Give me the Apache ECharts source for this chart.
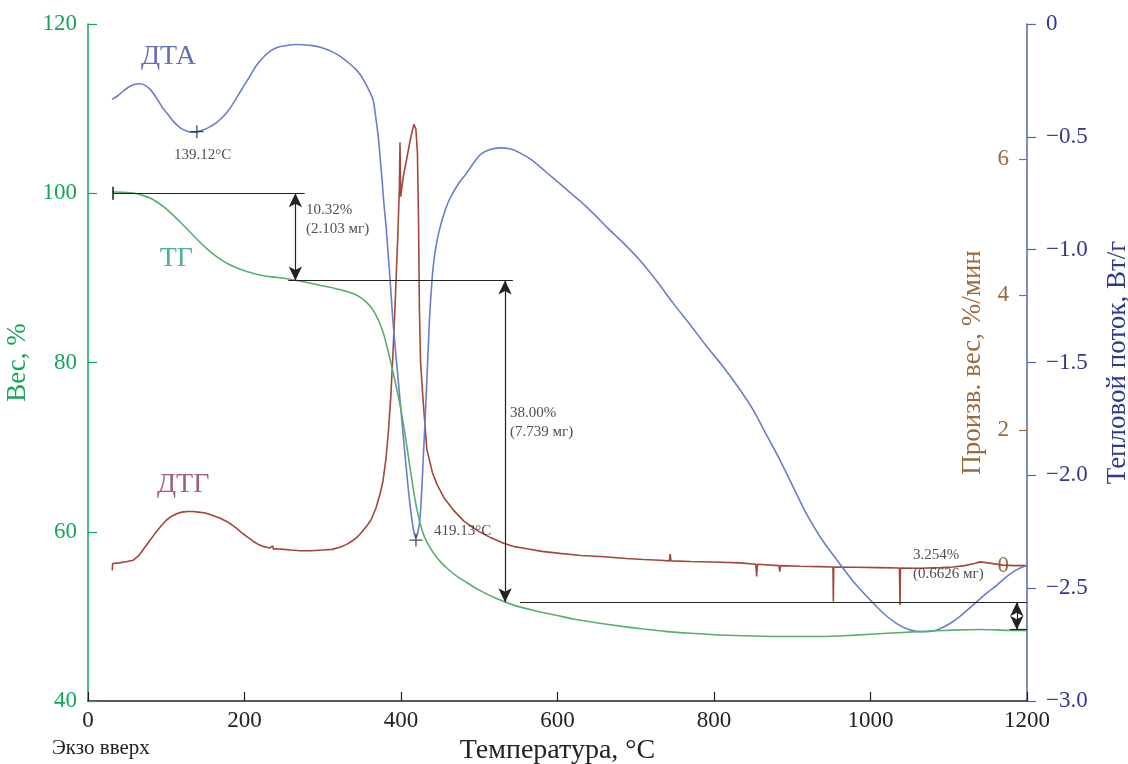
<!DOCTYPE html>
<html><head><meta charset="utf-8">
<script src="https://cdn.jsdelivr.net/npm/echarts@6/dist/echarts.min.js"></script>
<style>html,body{margin:0;padding:0;background:#fff}#c{width:1128px;height:764px}</style>
</head><body><div id="c"></div>
<script>
// ---------- data ----------
const tgTemp   = [31,45,58,70,80,90,100,110,120,130,140,150,160,170,180,192,205,220,235,250,265,280,295,309,320,332,340,348,355,362,368,373,378,382,386,390,394,399,405,411,416,420,425,430,436,443,450,460,472,484,500,522,545,570,600,620,650,680,710,740,770,808,850,890,935,980,1021,1060,1106,1140,1160,1178,1200];
const tgWeight = [100.15,100.12,100.02,99.75,99.4,98.85,98.15,97.3,96.4,95.45,94.5,93.6,92.8,92.15,91.6,91.1,90.7,90.35,90.12,89.95,89.72,89.45,89.15,88.9,88.65,88.35,88.1,87.7,87.2,86.5,85.6,84.6,83.3,81.9,80.4,78.8,77.1,74.9,71.6,67.9,64.9,62.8,60.8,59.4,58.3,57.3,56.5,55.6,54.7,54.0,53.1,52.1,51.3,50.7,50.1,49.7,49.25,48.85,48.5,48.2,48.0,47.8,47.68,47.62,47.62,47.78,48.0,48.2,48.38,48.45,48.4,48.35,48.35];

const dtgTemp = [31,31.5,40,50,58,65,72,79,86,93,100,107,114,120,127,134,141,148,155,162,169,176,183,190,197,204,211,218,225,232,236,237,240,250,260,271,285,300,312,322,330,337,343,348,356,362,368,373,377,381,384,387,390,393,396,398,398.7,399.6,403,408,412,416.5,419,421,422.5,423.5,425,428.5,433,440,446,455,467,480,497,515,531,545,561,580,603,630,660,688,710,731,743,744,745,770,808,833,853.5,854.5,855.5,883,884,885,910,935,952,952.5,953,980,1010,1037,1037.7,1038.3,1063,1090,1106,1120,1133,1140,1150,1169,1185,1200];
const dtgRate = [-0.07,0.03,0.04,0.06,0.08,0.15,0.26,0.37,0.48,0.58,0.67,0.73,0.77,0.79,0.8,0.8,0.79,0.78,0.76,0.73,0.7,0.66,0.61,0.55,0.48,0.42,0.36,0.31,0.28,0.26,0.29,0.24,0.25,0.24,0.23,0.22,0.22,0.23,0.24,0.27,0.31,0.36,0.41,0.47,0.58,0.68,0.85,1.05,1.25,1.6,2.0,2.5,3.2,4.0,4.9,5.6,6.25,5.45,5.75,6.05,6.3,6.52,6.45,6.1,5.0,3.8,3.0,2.4,1.72,1.38,1.2,1.0,0.82,0.66,0.52,0.41,0.33,0.28,0.25,0.21,0.18,0.15,0.13,0.106,0.09,0.08,0.07,0.17,0.07,0.06,0.05,0.04,0.02,-0.16,0.02,0.0,-0.09,0.0,-0.01,-0.015,-0.02,-0.53,-0.02,-0.025,-0.03,-0.035,-0.58,-0.035,-0.04,-0.03,-0.02,0.0,0.03,0.055,0.04,0.007,0.0,0.0];

const dtaTemp = [30.7,38,45,52,59,66,73,80,88,95,102,110,118,126,133,139,147,155,163,170,178,185,192,200,208,215,222,230,238,246,256,266,276,287,297,307,316,325,334,342,348,354,360,364.6,368,371,373,376,378,381,384,386,390,396.5,403,409,414,417,419,421,424,426,428.5,431,433,435,437,441,445,450,457,463,473,484,501,514,526.5,539,552,566,586,607,629,646,663,684,705,727,748,770,791,812,833,850,867,884,901,918,937,957,978,999,1016,1033,1048,1063,1075,1085,1100,1114,1131,1148,1162,1174,1186,1200];
const dtaFlow = [-0.334,-0.318,-0.298,-0.279,-0.268,-0.265,-0.272,-0.292,-0.33,-0.37,-0.4,-0.435,-0.46,-0.474,-0.479,-0.478,-0.47,-0.457,-0.44,-0.42,-0.39,-0.355,-0.315,-0.27,-0.225,-0.185,-0.155,-0.128,-0.11,-0.1,-0.094,-0.091,-0.092,-0.096,-0.103,-0.115,-0.13,-0.15,-0.175,-0.2,-0.225,-0.26,-0.3,-0.34,-0.42,-0.5,-0.58,-0.7,-0.79,-0.9,-1.04,-1.13,-1.33,-1.58,-1.83,-2.05,-2.2,-2.26,-2.275,-2.26,-2.2,-2.1,-1.92,-1.74,-1.58,-1.42,-1.27,-1.08,-0.98,-0.9,-0.82,-0.77,-0.71,-0.66,-0.58,-0.556,-0.549,-0.553,-0.571,-0.6,-0.658,-0.72,-0.785,-0.84,-0.9,-0.97,-1.046,-1.14,-1.238,-1.335,-1.43,-1.52,-1.62,-1.71,-1.82,-1.93,-2.05,-2.17,-2.28,-2.375,-2.47,-2.55,-2.61,-2.656,-2.682,-2.693,-2.692,-2.685,-2.66,-2.626,-2.575,-2.523,-2.485,-2.449,-2.42,-2.398];

// axis ticks
const xTicks = [0,200,400,600,800,1000,1200];
const weightTicks = [40,60,80,100,120];
const rateTicks = [0,2,4,6];
const flowTicks = [0,-0.5,-1.0,-1.5,-2.0,-2.5,-3.0];

// annotations (data space, weight axis)
const stepLines = [[32,277,100],[256,543,89.68],[552,1200,51.68],[1178,1200,48.43]]; // [tStart,tEnd,weight]
const stepArrows = [[265,100,89.68],[533,89.68,51.68],[1187,51.68,48.43]];          // [t,wFrom,wTo]
const noteTexts = ['139.12°C','10.32%\n(2.103 мг)','38.00%\n(7.739 мг)','419.13°C','3.254%\n(0.6626 мг)'];
const noteAnchors = [[109.9,104.5],[278.6,96.84],[539.3,72.85],[442.2,60.09],[1054.3,56.07]];
const peakMarks = [[139.12,-0.477],[419.13,-2.287]]; // on heat-flow axis
const startMark = [[32,100]];
const curveNames = ['ДТА','ТГ','ДТГ'];
const curveNameAnchors = [[67.7,116.1],[91.6,92.23],[88.2,65.52]];

// ---------- style ----------
const FONT = '"Liberation Serif","Times New Roman",serif';
const GREEN = '#14a55a', TGC = '#5aae6c', DTGC = '#a3473a', DTAC = '#6a7dcf';
const BLUE_AX = '#5761b8', BLUE_TX = '#2f3994', BROWN_TX = '#9b6b40', INK = '#222';
const NAME_COLORS = ['#3e4c9f','#24998a','#8e3562'];

const zip = (a,b) => a.map((v,i)=>[v,b[i]]);
const markLines = [];
stepLines.forEach(l => markLines.push([{coord:[l[0],l[2]],symbol:'none'},{coord:[l[1],l[2]],symbol:'none'}]));
stepArrows.forEach(a => markLines.push([{coord:[a[0],a[1]],symbol:'arrow'},{coord:[a[0],a[2]],symbol:'arrow'}]));

const chart = echarts.init(document.getElementById('c'), null, {renderer:'canvas'});
chart.setOption({
  animation:false,
  backgroundColor:'#fff',
  textStyle:{fontFamily:FONT},
  grid:{left:88,right:101,top:24,bottom:63,containLabel:false,outerBoundsMode:'none'},
  xAxis:{type:'value',min:0,max:1200,interval:200,
    axisLine:{onZero:false,lineStyle:{color:INK,width:1.5}},
    axisTick:{inside:true,length:9,lineStyle:{color:INK,width:1.2},customValues:xTicks},
    axisLabel:{color:INK,fontSize:23,margin:8,fontFamily:FONT,customValues:xTicks,hideOverlap:false,formatter:v=>String(v)},
    splitLine:{show:false},
    name:'Температура, °C',nameLocation:'middle',nameGap:35,
    nameTextStyle:{fontSize:28,color:INK,fontFamily:FONT}},
  yAxis:[
    {type:'value',position:'left',min:40,max:120,interval:20,
     axisLine:{show:true,onZero:false,lineStyle:{color:GREEN,width:1.5}},
     axisTick:{show:true,inside:true,length:9,lineStyle:{color:GREEN,width:1.2},customValues:weightTicks},
     axisLabel:{color:GREEN,fontSize:23,margin:11,fontFamily:FONT,customValues:weightTicks,hideOverlap:false},
     splitLine:{show:false},
     name:'Вес, %',nameLocation:'middle',nameGap:52,nameRotate:90,
     nameTextStyle:{color:GREEN,fontSize:27,fontFamily:FONT}},
    {type:'value',position:'right',offset:0,min:-2,max:8,interval:2,
     axisLine:{show:false,onZero:false},
     axisTick:{show:true,inside:true,length:8,lineStyle:{color:BROWN_TX,width:1.2},customValues:rateTicks},
     axisLabel:{inside:true,color:BROWN_TX,fontSize:23,margin:18,fontFamily:FONT,customValues:rateTicks,hideOverlap:false},
     splitLine:{show:false},
     name:'Произв. вес, %/мин',nameLocation:'middle',nameGap:-68,nameRotate:90,
     nameTextStyle:{color:BROWN_TX,fontSize:27,fontFamily:FONT}},
    {type:'value',position:'right',offset:0,min:-3,max:0,interval:0.5,
     axisLine:{show:true,onZero:false,lineStyle:{color:BLUE_AX,width:1.5}},
     axisTick:{show:true,inside:false,length:9,lineStyle:{color:BLUE_AX,width:1.2},customValues:flowTicks},
     axisLabel:{color:BLUE_TX,fontSize:23,margin:19,fontFamily:FONT,customValues:flowTicks,hideOverlap:false,
       formatter:v => v===0 ? '0' : '\u2212'+Math.abs(v).toFixed(1)},
     splitLine:{show:false},
     name:'Тепловой поток, Вт/г',nameLocation:'middle',nameGap:77,nameRotate:90,
     nameTextStyle:{color:BLUE_TX,fontSize:27,fontFamily:FONT}}
  ],
  series:[
    {name:'ТГ',type:'line',yAxisIndex:0,data:zip(tgTemp,tgWeight),smooth:0.3,showSymbol:false,
     lineStyle:{color:TGC,width:1.6},itemStyle:{color:TGC},z:3,
     markLine:{silent:true,symbol:['none','none'],symbolSize:[10,14],label:{show:false},
       lineStyle:{color:INK,width:1.2,type:'solid'},emphasis:{disabled:true},data:markLines}},
    {name:'ДТГ',type:'line',yAxisIndex:1,data:zip(dtgTemp,dtgRate),smooth:false,showSymbol:false,
     lineStyle:{color:DTGC,width:1.6},itemStyle:{color:DTGC},z:2},
    {name:'ДТА',type:'line',yAxisIndex:2,data:zip(dtaTemp,dtaFlow),smooth:0.3,showSymbol:false,
     lineStyle:{color:DTAC,width:1.6},itemStyle:{color:DTAC},z:2},
    {type:'scatter',yAxisIndex:2,data:peakMarks,silent:true,
     symbol:'path://M0,5.4H12V6.6H0Z M5.4,0H6.6V12H5.4Z',symbolSize:13,itemStyle:{color:INK},z:5},
    {type:'scatter',yAxisIndex:0,data:startMark,silent:true,
     symbol:'path://M0,0H1V10H0Z',symbolSize:[2,13],symbolKeepAspect:false,itemStyle:{color:INK},z:5},
    {type:'scatter',yAxisIndex:0,silent:true,symbolSize:0,z:6,
     data:noteAnchors.map((p,i)=>({value:p,name:noteTexts[i]})),
     label:{show:true,position:'right',distance:0,formatter:p=>p.name,color:INK,fontSize:15,lineHeight:19,fontFamily:FONT,align:'left'}},
    {type:'scatter',yAxisIndex:0,silent:true,symbolSize:0,z:6,
     data:curveNameAnchors.map((p,i)=>({value:p,name:curveNames[i],label:{color:NAME_COLORS[i]}})),
     label:{show:true,position:'right',distance:0,formatter:p=>p.name,fontSize:28,fontFamily:FONT}}
  ],
  graphic:[
    {type:'text',left:52,top:738,style:{text:'Экзо вверх',fontSize:21,fontFamily:FONT,fill:INK}}
  ]
});
</script></body></html>
